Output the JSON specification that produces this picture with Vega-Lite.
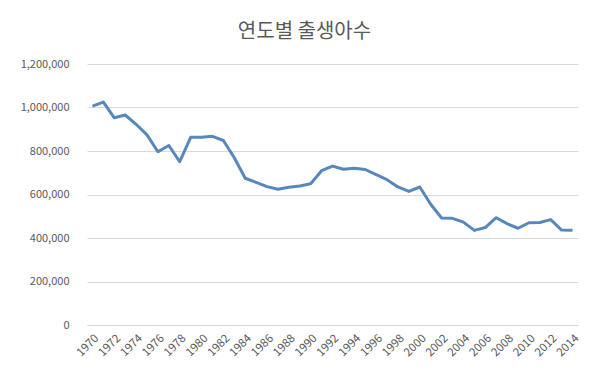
{
  "$schema": "https://vega.github.io/schema/vega-lite/v6.json",
  "autosize": "none",
  "width": 491,
  "height": 261,
  "padding": {"left": 87, "top": 64, "right": 38, "bottom": 66},
  "background": "white",
  "title": {
    "text": "연도별 출생아수",
    "font": "Noto Sans CJK KR",
    "fontSize": 20,
    "fontWeight": "normal",
    "color": "#595959",
    "anchor": "middle",
    "dx": -28,
    "offset": 16
  },
  "config": {
    "view": {"stroke": null},
    "axis": {
      "labelFont": "Noto Sans CJK KR",
      "labelFontSize": 11,
      "labelColor": "#595959",
      "gridColor": "#d9d9d9",
      "domain": false,
      "ticks": false,
      "title": null
    }
  },
  "data": {
    "values": [
      {"year": 1970, "births": 1006645},
      {"year": 1971, "births": 1024773},
      {"year": 1972, "births": 952780},
      {"year": 1973, "births": 965521},
      {"year": 1974, "births": 922823},
      {"year": 1975, "births": 874030},
      {"year": 1976, "births": 796331},
      {"year": 1977, "births": 825339},
      {"year": 1978, "births": 750728},
      {"year": 1979, "births": 862669},
      {"year": 1980, "births": 862835},
      {"year": 1981, "births": 867409},
      {"year": 1982, "births": 848312},
      {"year": 1983, "births": 769155},
      {"year": 1984, "births": 674793},
      {"year": 1985, "births": 655489},
      {"year": 1986, "births": 636019},
      {"year": 1987, "births": 623831},
      {"year": 1988, "births": 633092},
      {"year": 1989, "births": 639431},
      {"year": 1990, "births": 649738},
      {"year": 1991, "births": 709275},
      {"year": 1992, "births": 730678},
      {"year": 1993, "births": 715826},
      {"year": 1994, "births": 721185},
      {"year": 1995, "births": 715020},
      {"year": 1996, "births": 691226},
      {"year": 1997, "births": 668344},
      {"year": 1998, "births": 634790},
      {"year": 1999, "births": 614233},
      {"year": 2000, "births": 634501},
      {"year": 2001, "births": 554895},
      {"year": 2002, "births": 492111},
      {"year": 2003, "births": 490543},
      {"year": 2004, "births": 472761},
      {"year": 2005, "births": 435031},
      {"year": 2006, "births": 448153},
      {"year": 2007, "births": 493189},
      {"year": 2008, "births": 465892},
      {"year": 2009, "births": 444849},
      {"year": 2010, "births": 470171},
      {"year": 2011, "births": 471265},
      {"year": 2012, "births": 484550},
      {"year": 2013, "births": 436455},
      {"year": 2014, "births": 435435}
    ]
  },
  "mark": {"type": "line", "color": "#5688bd", "strokeWidth": 3, "strokeJoin": "round"},
  "encoding": {
    "x": {
      "field": "year",
      "type": "ordinal",
      "scale": {"type": "point", "padding": 0.5},
      "axis": {
        "grid": false,
        "domain": true,
        "domainColor": "#d9d9d9",
        "labelAngle": -45,
        "labelPadding": 7,
        "labelFontSize": 11.5,
        "values": [1970,1972,1974,1976,1978,1980,1982,1984,1986,1988,1990,1992,1994,1996,1998,2000,2002,2004,2006,2008,2010,2012,2014]
      }
    },
    "y": {
      "field": "births",
      "type": "quantitative",
      "scale": {"domain": [0, 1200000], "nice": false},
      "axis": {
        "values": [0, 200000, 400000, 600000, 800000, 1000000, 1200000],
        "format": ",d",
        "labelPadding": 18
      }
    }
  }
}
